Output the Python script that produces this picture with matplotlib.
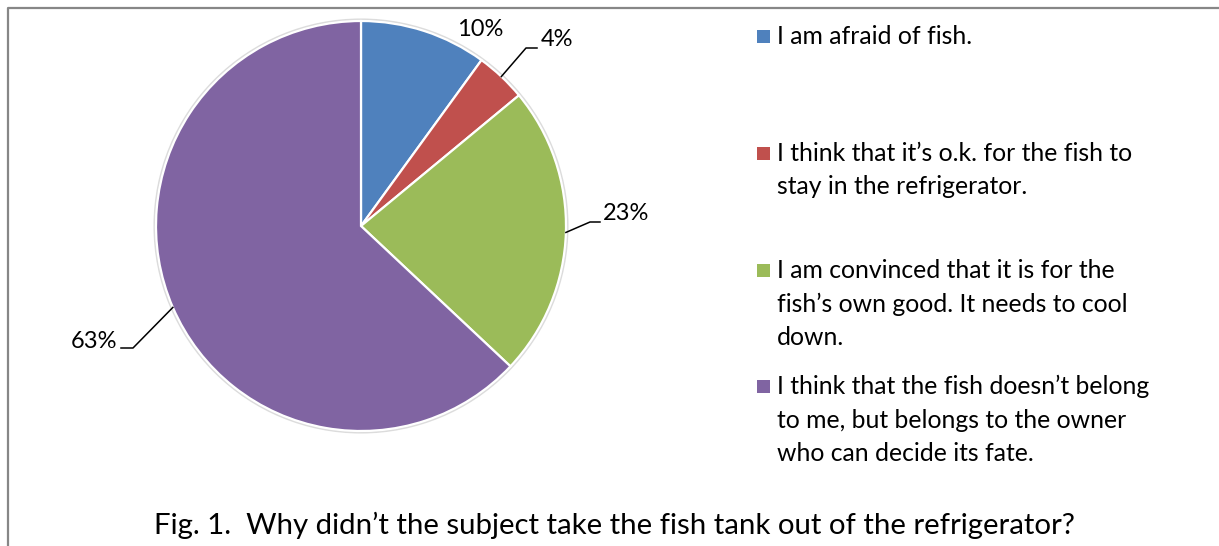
import numpy as np
import matplotlib
matplotlib.use("Agg")
import matplotlib.pyplot as plt
from matplotlib.patches import Rectangle
from matplotlib.lines import Line2D

plt.rcParams['font.family'] = ['Lato', 'DejaVu Sans']

categories = [
    "I am afraid of fish.",
    "I think that it\u2019s o.k. for the fish to\nstay in the refrigerator.",
    "I am convinced that it is for the\nfish\u2019s own good. It needs to cool\ndown.",
    "I think that the fish doesn\u2019t belong\nto me, but belongs to the owner\nwho can decide its fate.",
]
values = [10, 4, 23, 63]
pct_labels = ["10%", "4%", "23%", "63%"]
colors = ["#4F81BD", "#C0504D", "#9BBB59", "#8064A2"]
title = "Fig. 1.  Why didn\u2019t the subject take the fish tank out of the refrigerator?"

W, H = 1219, 546
fig = plt.figure(figsize=(W / 100, H / 100), dpi=100)
ax = fig.add_axes([0, 0, 1, 1])

cx, cy, R = 361, H - 226, 205
wedges, _ = ax.pie(values, colors=colors, startangle=90, counterclock=False,
                   center=(cx, cy), radius=R,
                   wedgeprops=dict(edgecolor="white", linewidth=1.6))
halo = plt.Circle((cx, cy), R + 1.5, facecolor="none", edgecolor="#dcdcdc", lw=1.5, zorder=0)
ax.add_patch(halo)

ax.set_xlim(0, W)
ax.set_ylim(0, H)
ax.set_aspect("auto")
ax.axis("off")

def y(px):
    return H - px

label_specs = [
    dict(xy=(480, 30), ha="center", leader=None),
    dict(xy=(541, 40), ha="left", leader=[(526, 48), (537, 48)]),
    dict(xy=(603, 214), ha="left", leader=[(590, 222), (600, 222)]),
    dict(xy=(117, 341), ha="right", leader=[(133, 348), (121, 348)]),
]
for w, lab, spec in zip(wedges, pct_labels, label_specs):
    ang = np.deg2rad((w.theta1 + w.theta2) / 2)
    sx = cx + R * np.cos(ang)
    sy = cy + R * np.sin(ang)
    ax.text(spec["xy"][0], y(spec["xy"][1]), lab, ha=spec["ha"], va="center",
            fontsize=17, color="black")
    if spec["leader"]:
        xs = [sx] + [p[0] for p in spec["leader"]]
        ys = [sy] + [y(p[1]) for p in spec["leader"]]
        ax.add_line(Line2D(xs, ys, color="black", lw=1.1))

# legend
leg_y = [36, 153, 270, 386]
for c, lab, ly in zip(colors, categories, leg_y):
    ax.add_patch(Rectangle((757, y(ly) - 6.5), 13, 13, facecolor=c, edgecolor="none"))
    ax.text(777, y(ly - 11), lab, ha="left", va="top", fontsize=17.8,
            linespacing=1.54, color="black")

# border
ax.add_line(Line2D([8, 8, W], [0, y(8), y(8)], color="#878787", lw=1.6))

ax.text(614, y(525), title, ha="center", va="center", fontsize=21.2, color="black")

fig.savefig("out.png", dpi=100)
